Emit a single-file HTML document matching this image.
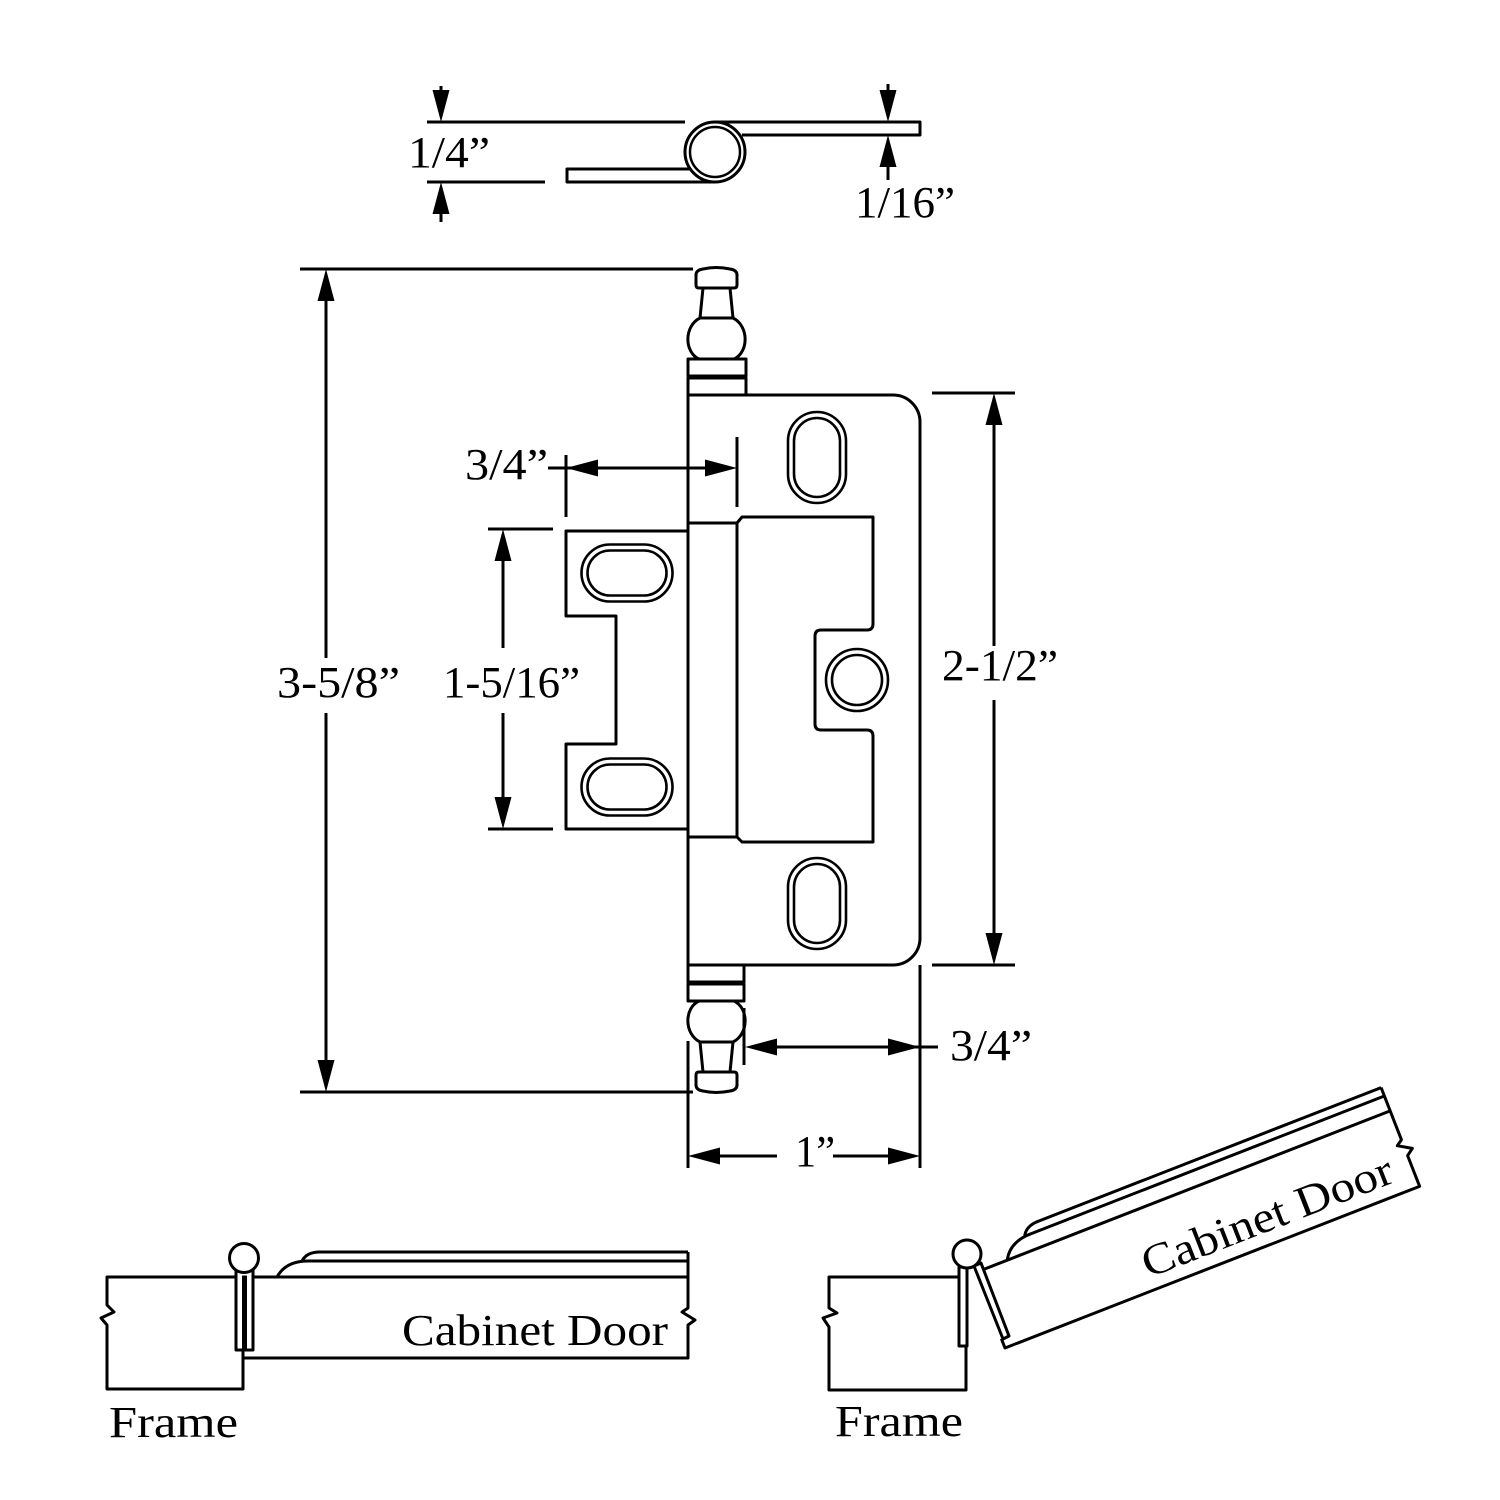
<!DOCTYPE html>
<html>
<head>
<meta charset="utf-8">
<style>
  html,body{margin:0;padding:0;background:#fff;}
  svg{display:block;}
  text{font-family:"Liberation Serif", serif; fill:#000;}
</style>
</head>
<body>
<svg width="1500" height="1500" viewBox="0 0 1500 1500" xmlns="http://www.w3.org/2000/svg">
<rect width="1500" height="1500" fill="#fff"/>
<g fill="none" stroke="#000" stroke-width="3" stroke-linejoin="round">

  <!-- ===== TOP SIDE VIEW ===== -->
  <line x1="427" y1="122" x2="685" y2="122"/>
  <line x1="427" y1="182" x2="545" y2="182"/>
  <path d="M715,122 H920 V135 H742"/>
  <path d="M715,182 H567 V169 H690"/>
  <circle cx="715" cy="152" r="30" fill="#fff"/>
  <circle cx="715" cy="152" r="25" stroke-width="2.5"/>
  <!-- arrows left -->
  <line x1="441" y1="86" x2="441" y2="110"/>
  <line x1="441" y1="195" x2="441" y2="222"/>
  <!-- arrows right -->
  <line x1="888" y1="84" x2="888" y2="110"/>
  <line x1="888" y1="148" x2="888" y2="180"/>

  <!-- ===== MAIN HINGE ===== -->
  <!-- top finial -->
  <g id="finial">
    <path d="M699,288 H734 Q737,288 737,285 V275 Q737,270 730,269 Q716,266 703,269 Q696,270 696,275 V285 Q696,288 699,288 Z"/>
    <path d="M703,288 L700,318 H733 L730,288"/>
    <path d="M700,318 C684,326 684,352 699,359 M733,318 C749,326 749,352 734,359"/>
    <rect x="688" y="359" width="58" height="17"/>
    <rect x="688" y="378" width="58" height="17"/>
  </g>
  <g transform="matrix(1,0,0,-1,0,1360)">
    <path d="M699,288 H734 Q737,288 737,285 V275 Q737,270 730,269 Q716,266 703,269 Q696,270 696,275 V285 Q696,288 699,288 Z"/>
    <path d="M703,288 L700,318 H733 L730,288"/>
    <path d="M700,318 C684,326 684,352 699,359 M733,318 C749,326 749,352 734,359"/>
    <rect x="688" y="359" width="56" height="17"/>
    <rect x="688" y="378" width="56" height="17"/>
  </g>

  <!-- right leaf outline -->
  <path d="M688,395 H893 A27,27 0 0 1 920,422 V938 A27,27 0 0 1 893,965 H688"/>
  <line x1="688" y1="395" x2="688" y2="965"/>
  <!-- strip -->
  <path d="M688,523 H737 V837 H688"/>
  <!-- raised plate -->
  <path d="M737,523 L742,517 H873 V624 Q873,630 867,630 H821 Q815,630 815,636 V724 Q815,730 821,730 H867 Q873,730 873,736 V842 H742 L737,837"/>
  <!-- left leaf -->
  <path d="M688,531 H566 V616 H616 V744 H566 V829 H688"/>

  <!-- slots -->
  <g stroke-width="2.6">
    <rect x="581.5" y="544.5" width="91" height="57" rx="28.5"/>
    <rect x="587.5" y="550.5" width="79" height="45" rx="22.5"/>
    <rect x="581.5" y="758.5" width="91" height="57" rx="28.5"/>
    <rect x="587.5" y="764.5" width="79" height="45" rx="22.5"/>
    <rect x="788" y="412" width="58" height="91" rx="29"/>
    <rect x="794" y="418" width="46" height="79" rx="23"/>
    <rect x="788" y="858" width="58" height="91" rx="29"/>
    <rect x="794" y="864" width="46" height="79" rx="23"/>
    <circle cx="857" cy="680" r="31"/>
    <circle cx="857" cy="680" r="25"/>
  </g>

  <!-- ===== DIMENSIONS ===== -->
  <!-- 3-5/8 -->
  <line x1="300" y1="269" x2="693" y2="269"/>
  <line x1="300" y1="1092" x2="693" y2="1092"/>
  <line x1="326" y1="290" x2="326" y2="658"/>
  <line x1="326" y1="713" x2="326" y2="1070"/>
  <!-- 1-5/16 -->
  <line x1="488" y1="529" x2="553" y2="529"/>
  <line x1="488" y1="829" x2="553" y2="829"/>
  <line x1="503" y1="550" x2="503" y2="648"/>
  <line x1="503" y1="713" x2="503" y2="808"/>
  <!-- 3/4 upper -->
  <line x1="566" y1="455" x2="566" y2="517"/>
  <line x1="737" y1="437" x2="737" y2="507"/>
  <line x1="548" y1="468" x2="716" y2="468"/>
  <!-- 2-1/2 -->
  <line x1="932" y1="393" x2="1015" y2="393"/>
  <line x1="932" y1="965" x2="1015" y2="965"/>
  <line x1="994" y1="414" x2="994" y2="646"/>
  <line x1="994" y1="700" x2="994" y2="944"/>
  <!-- 3/4 lower -->
  <line x1="744" y1="1008" x2="744" y2="1065"/>
  <line x1="766" y1="1047" x2="938" y2="1047"/>
  <!-- 1" -->
  <line x1="688" y1="1041" x2="688" y2="1168"/>
  <line x1="920" y1="965" x2="920" y2="1168"/>
  <line x1="708" y1="1156" x2="777" y2="1156"/>
  <line x1="833" y1="1156" x2="900" y2="1156"/>

  <!-- ===== BOTTOM LEFT ===== -->
  <path d="M236,1277 H107 V1305 L114,1312 L101,1318 L107,1325 V1389 H243 V1350"/>
  <path d="M253,1277 H688"/>
  <path d="M243,1358 H688 V1325 L695,1320 L682,1312 L688,1308 V1252"/>
  <path d="M318,1252 H688 M306,1261 H688"/>
  <path d="M277,1277 C283,1266 293,1261 308,1261"/>
  <path d="M302,1261 C305,1255 311,1252 320,1252"/>
  <rect x="236" y="1270" width="17" height="80" fill="#fff"/>
  <rect x="242.5" y="1276" width="4" height="74" fill="#000" stroke-width="1"/>
  <circle cx="244" cy="1258" r="14.5" fill="#fff"/>

  <!-- ===== BOTTOM RIGHT ===== -->
  <path d="M959,1277 H829 V1308 L837,1313 L823,1318 L829,1327 V1390 H966 V1346"/>
  <g transform="translate(1005,1348) rotate(-21.3)">
    <path d="M8,-81 H445"/>
    <path d="M0,-10 V0 H445 V-33 L452,-38 L439,-46 L445,-50 V-106"/>
    <path d="M75,-106 H445 M63,-97 H445"/>
    <path d="M34,-81 C40,-92 50,-97 65,-97"/>
    <path d="M59,-97 C62,-103 68,-106 77,-106"/>
  </g>
  <rect x="959" y="1267" width="8" height="79" fill="#fff"/>
  <polygon points="974,1266 981,1263 1009,1336 1003,1339" fill="#fff"/>
  <circle cx="967" cy="1254" r="14" fill="#fff"/>
</g>

<!-- arrowheads -->
<g fill="#000" stroke="none">
  <!-- top view -->
  <polygon points="441,122 432.5,90 449.5,90"/>
  <polygon points="441,182 432.5,214 449.5,214"/>
  <polygon points="888,122 879.5,90 896.5,90"/>
  <polygon points="888,135 879.5,167 896.5,167"/>
  <!-- 3-5/8 -->
  <polygon points="326,269 317.5,301 334.5,301"/>
  <polygon points="326,1092 317.5,1060 334.5,1060"/>
  <!-- 1-5/16 -->
  <polygon points="503,529 494.5,561 511.5,561"/>
  <polygon points="503,829 494.5,797 511.5,797"/>
  <!-- 3/4 upper -->
  <polygon points="566,468 598,459.5 598,476.5"/>
  <polygon points="737,468 705,459.5 705,476.5"/>
  <!-- 2-1/2 -->
  <polygon points="994,393 985.5,425 1002.5,425"/>
  <polygon points="994,965 985.5,933 1002.5,933"/>
  <!-- 3/4 lower -->
  <polygon points="745,1047 777,1038.5 777,1055.5"/>
  <polygon points="920,1047 888,1038.5 888,1055.5"/>
  <!-- 1" -->
  <polygon points="688,1156 720,1147.5 720,1164.5"/>
  <polygon points="920,1156 888,1147.5 888,1164.5"/>
</g>

<!-- text -->
<g font-size="44">
  <text x="408" y="167" textLength="82" lengthAdjust="spacingAndGlyphs">1/4”</text>
  <text x="855" y="217" textLength="100" lengthAdjust="spacingAndGlyphs">1/16”</text>
  <text x="277" y="697" textLength="123" lengthAdjust="spacingAndGlyphs">3-5/8”</text>
  <text x="443" y="697" textLength="137" lengthAdjust="spacingAndGlyphs">1-5/16”</text>
  <text x="465" y="479" textLength="83" lengthAdjust="spacingAndGlyphs">3/4”</text>
  <text x="942" y="680" textLength="116" lengthAdjust="spacingAndGlyphs">2-1/2”</text>
  <text x="950" y="1060" textLength="82" lengthAdjust="spacingAndGlyphs">3/4”</text>
  <text x="795" y="1166" textLength="40" lengthAdjust="spacingAndGlyphs">1”</text>
  <text x="109" y="1437" textLength="129" lengthAdjust="spacingAndGlyphs">Frame</text>
  <text x="835" y="1436" textLength="128" lengthAdjust="spacingAndGlyphs">Frame</text>
  <text x="402" y="1345" textLength="266" lengthAdjust="spacingAndGlyphs">Cabinet Door</text>
  <g transform="translate(1005,1348) rotate(-21.3)">
    <text x="159" y="-13" textLength="266" lengthAdjust="spacingAndGlyphs">Cabinet Door</text>
  </g>
</g>
</svg>
</body>
</html>
